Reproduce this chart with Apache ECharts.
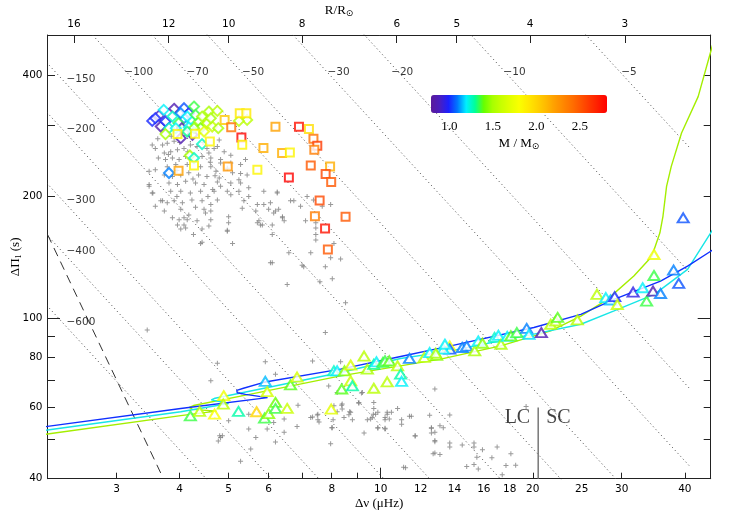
<!DOCTYPE html>
<html><head><meta charset="utf-8">
<script src="https://cdn.jsdelivr.net/npm/echarts@6/dist/echarts.min.js"></script>
<style>html,body{margin:0;padding:0;background:#fff}#c{width:729px;height:514px}</style>
</head><body><div id="c"></div>
<script>
// ---------- axes ----------
const xRange = [2.19, 45.0];
const yRange = [40, 502];
const rRange = [2.311, 17.34];
const xTickLabels = [3,4,5,6,8,10,12,14,16,18,20,25,30,40];
const xMinorTicks = [3,4,5,6,7,8,9,20,30,40];
const xMajorTicks = [10];
const rTickLabels = [16,12,10,8,6,5,4,3];
const yTickLabels = [40,60,80,100,200,400];
const yMinorTicks = [40,50,60,70,80,90,200,300,400];
const yMajorTicks = [100];
const massRange = [0.79, 2.81];
const massTicks = [1.0,1.5,2.0,2.5];
const massColors = ['#5a1a9a','#4a1ec0','#1a20ff','#0078ff','#00f0ff','#00ff98','#66ff00','#a8ff00','#c8ff00','#e2ff00','#faff00','#ffea00','#ffd400','#ffbb00','#ffa000','#ff8800','#ff7000','#ff5500','#ff3800','#ff1c00','#ff0000'];

// ---------- constant n_g reference lines ----------
const ngNames = ['\u22125','\u221210','\u221220','\u221230','\u221250','\u221270','\u2212100','\u2212150','\u2212200','\u2212300','\u2212400','\u2212600'];
const ngDnuEnds = [2.0, 41];
const ngStartPi = [16004,7843,4051,2602,1530,1087,751,483,364,243,181,121];
const ngEndPi = [263,129,66.6,42.8,25.2,17.9,12.3,7.95,5.98,4.0,2.98,1.99];
const ngLabelPos = [[31.0,406],[18.41,406],[11.03,406],[8.25,406],[5.59,406],[4.34,406],[3.32,406],[2.55,391],[2.55,294],[2.55,196],[2.55,146],[2.55,97.8]];

const dashedLine = [[2.19,161],[3.68,41]];
const lcScDivider = [[20.5,40],[20.5,60]];
const lcScLabelPos = [20.5, 56.6];

// ---------- model tracks ----------
const trackBlue = [[47,151.5],[45.0,146.3],[40.5,134.4],[35.8,123.4],[28.97,111.2],[24.9,102.1],[20.1,94.7],[13.76,85.3],[10.95,80.3],[8.33,74.7],[5.87,69.3],[5.35,67.0],[5.19,66.2],[5.20,65.3],[5.40,64.7],[5.97,63.5],[4.02,59.7],[2.19,53.9],[2.1,53.5]];
const trackCyan = [[47,177],[45.0,162.5],[40.5,131.9],[34.8,114.4],[28.97,104.1],[24.9,96.5],[20.1,91.2],[13.76,82.9],[10.95,79.4],[8.33,73.3],[5.91,67.1],[4.70,63.3],[4.62,62.7],[4.66,62.2],[5.00,61.4],[4.02,58.6],[2.19,52.8],[2.1,52.4]];
const trackGreen = [[46,503],[45.1,460.8],[42.5,353.3],[39.4,287],[37.6,237.3],[36.8,211.8],[36.2,178.6],[35.7,162.5],[34.4,142.0],[31.7,127],[28.1,111.2],[24.9,101.1],[21.7,92.9],[17.28,85.3],[13.14,79.1],[8.33,71.9],[5.53,64.8],[4.26,60.7],[4.18,60.1],[4.24,59.4],[4.73,58.8],[4.02,57.3],[2.19,51.6],[2.1,51.2]];

// ---------- stars ----------
const greyStars = [
[3.53,268],[3.58,263],[3.70,268],[3.78,271],[3.90,274],[3.73,256],[3.84,258],[3.96,261],[4.08,263],[4.20,268],[4.33,266],[4.53,263],[4.75,266],
[3.75,247],[3.87,249],[3.99,247],[4.11,251],[4.26,253],[4.43,251],[4.61,249],[4.82,247],[5.05,253],
[3.78,237],[3.93,240],[4.14,240],[4.40,237],[4.61,237],[4.72,231],
[3.73,226],[3.87,224],[4.02,226],[4.17,229],[4.36,226],[4.53,224],
[3.81,216],[3.96,214],[4.11,218],[4.30,216],[4.47,214],[4.75,217],
[3.84,206],[4.02,206],[4.20,204],[4.40,206],[4.65,208],[4.82,212],
[3.67,195],[3.90,195],[4.05,193],[4.23,196],[4.43,195],[4.61,191],
[3.73,184],[4.02,186],[4.17,180],[4.50,182],[4.61,175],[4.08,170],[4.33,174],[4.97,164],
[3.48,214],[3.53,204],[3.58,233],[3.63,249],[3.48,231],[4.97,235],[5.09,229],[5.24,220],[5.28,216],[5.44,226],[5.05,216],[4.79,222],[4.68,263],[4.79,276],[4.57,256],
[5.48,200],[5.36,195],[5.05,202],[5.24,206],[5.70,191],[6.00,186],[5.87,206],[6.24,204],[5.74,174],[6.14,182],[6.63,195],[6.73,195],[6.39,177],[6.44,174],[5.00,172],[4.43,166],[4.02,166],[3.99,175],[3.87,177],[5.05,242],[5.40,247],[4.82,242],[4.68,206],
[3.48,212],[3.54,204],[3.58,189],[3.70,195],[3.78,193],[3.96,170],[4.08,177],[4.14,175],[4.11,167],[4.26,161],[4.40,153],[4.57,169],[4.61,184],[4.47,186],[4.75,196],[4.97,206],[5.00,178],[4.97,165],[5.09,153],[4.43,154],
[5.28,240],[5.28,228],[5.48,210],[5.32,187],[5.66,184],[5.70,172],[5.78,170],[5.87,191],[6.10,161],[6.19,184],[6.39,178],[6.24,205],[6.94,189],[7.15,200],[7.36,196],[7.44,167],[7.44,161],[7.44,156],[7.27,145],[7.04,134],[6.58,145],[6.10,137],[6.53,121],[8.08,153],[7.96,141],[8.33,140],[7.77,134],[8.02,125],[7.58,123],[8.52,109],[7.66,189],
[6.05,193],[5.83,170],[6.10,170],[6.28,186],[7.96,191],[7.10,174],[7.44,172],
[3.62,278],[3.85,282],[4.00,272],[4.15,258],[4.45,272],[4.60,243],[3.95,232],[4.25,221],[4.55,200],[3.95,200],[4.30,188],[3.80,254],[4.90,258],[4.70,225],
[3.45,93.4],[7.77,92.0],[4.75,77.2],[4.61,69.9],[5.91,77.9],[6.19,72.6],[7.33,78.3],[8.33,77.9],[7.89,67.9],[6.86,60.8],[6.83,53.9],[6.44,52.1],[6.14,55.1],[6.44,56.2],[5.48,57.8],[5.00,55.7],[4.82,50.6],[4.86,51.1],[5.28,44.2],[5.48,53.1],[5.66,50.6],[5.96,53.1],[5.53,47.4],[6.19,49.3],[7.96,48.8],[7.27,56.7],[7.49,57.5],[7.55,55.3],[8.02,53.5],[8.39,59.5],[8.46,56.7],[8.65,57.6],[8.72,58.4],[9.05,61.8],[9.20,65.4],[9.55,56.2],[9.69,59.7],[9.77,57.8],[10.2,56.7],[10.3,58.4],[10.4,56.2],[9.87,53.5],[10.2,53.1],[10.8,59.7],[11.1,42.7],[11.5,57.1],[11.7,51.1],[12.6,53.5],[12.8,52.1],[12.8,49.7],[12.8,66.7],[12.7,46.1],[8.20,65.4],[8.39,61.2],[9.69,61.8],
[7.33,56.9],[7.51,57.8],[7.51,56.0],[8.08,60.6],[8.37,60.8],[8.20,58.6],[8.05,56.0],[8.68,58.6],[8.79,56.0],[9.05,61.5],[9.67,57.8],[9.41,56.0],[9.62,56.7],[9.87,58.4],[10.3,57.8],[10.5,58.4],[10.2,56.0],[11.0,56.0],[11.0,54.6],[11.4,57.1],[12.5,57.4],[13.1,54.1],[13.3,53.5],[13.7,57.5],[8.00,53.5],[9.27,51.9],[9.87,53.4],[10.2,53.3],[11.7,51.0],[12.6,53.3],[12.6,51.9],[12.8,49.4],[13.7,49.0],[13.7,47.9],[14.5,48.5],[15.3,49.0],[15.3,47.9],[15.9,47.2],[17.0,47.9],[12.8,46.3],[13.1,45.9],[15.5,45.2],[16.6,45.1],[18.1,46.1],[14.8,42.9],[15.3,43.4],[15.6,42.3],[17.7,43.1],[18.5,43.2],[17.4,40.9],[19.4,60.4],[9.16,65.2],
[6.05,137],[6.99,135],[4.80,51.1],[4.77,49.6],[11.2,42.6]
];
// [dnu, dPi, mass]
const diamondStars = [
[3.53,307.6,1.0],[3.64,317,0.9],[3.72,327.6,1.2],[3.90,329.6,0.85],[3.67,298,0.85],[3.75,306.5,1.0],[3.81,295.2,1.25],[3.75,285.3,1.5],[4.08,330.7,1.05],[4.17,321.5,1.0],[4.27,333.8,1.35],[4.20,309.4,1.25],[4.08,312.4,1.1],[3.98,303.7,1.35],[4.04,295.2,0.85],[4.02,278.8,0.85],[4.24,284.2,0.85],[4.17,296.8,1.2],[4.37,306.5,1.5],[4.40,295.2,1.4],[4.57,324.4,1.5],[4.75,325.7,1.55],[4.54,303.7,1.55],[4.64,298,1.6],[4.47,289.5,1.7],[4.43,269.5,1.25],[4.19,252.6,1.5],[4.27,248.9,1.25],[3.81,228.6,1.1],[5.44,309.4,1.55],[5.24,307.6,1.55],[3.58,312.4,1.0],[3.87,315.3,1.25],[4.02,321.5,1.1],[4.14,315.3,1.2],[4.30,318.4,1.35],[4.43,315.3,1.5],[4.61,312.4,1.5],[4.27,295.2,1.45],[3.93,295.2,1.2],[4.14,289.5,1.3],[4.77,295.2,1.5]
];
const squareStars = [
[3.96,285.3,1.85],[4.29,285.8,1.85],[4.59,273.5,1.85],[4.27,238.7,1.85],[3.98,231.6,2.2],[4.98,237.3,2.25],[5.70,232.9,1.85],[4.91,309.4,2.05],[5.26,321.5,1.9],[5.42,321.5,1.9],[5.06,296.8,2.4],[5.30,279.9,2.8],[5.32,268.5,1.85],[6.19,297.4,2.2],[6.89,297.4,2.75],[7.21,293.6,1.95],[7.36,277.8,2.4],[7.49,267,2.6],[7.39,260.9,2.35],[5.86,263.4,2.15],[6.38,256.1,2.15],[6.61,257,1.85],[6.58,222.9,2.8],[7.27,238.7,2.5],[7.94,237.3,2.15],[7.78,227.3,2.55],[7.98,217.2,2.5],[7.57,195.3,2.55],[8.52,178,2.5],[7.41,178.6,2.35],[7.76,166.5,2.75],[7.86,147.8,2.5]
];
const triangleStars = [
[4.20,57.2,1.35],[4.38,58.7,1.55],[4.69,57.8,1.8],[4.89,64.2,1.75],[4.88,61.2,1.55],[5.23,58.7,1.28],[5.68,58.6,2.0],[5.91,69.7,1.15],[5.96,65.7,1.65],[5.89,56.5,1.35],[6.00,58.0,1.45],[6.19,61.8,1.4],[6.19,59.7,1.35],[6.53,59.7,1.6],[6.63,68.3,1.38],[6.83,71.4,1.65],[7.98,59.5,1.7],[8.08,74.0,1.25],[8.20,74.0,1.2],[8.37,66.7,1.38],[8.48,74.0,1.45],[8.72,76.5,1.65],[8.72,69.9,1.6],[8.79,67.9,1.28],[9.27,80.5,1.55],[9.41,74.7,1.5],[9.69,76.8,1.3],[9.69,67.0,1.55],[9.81,77.9,1.2],[10.1,77.6,1.35],[10.2,78.3,1.35],[10.3,69.5,1.55],[10.4,78.3,1.38],[10.8,76.1,1.55],[10.95,72.6,1.28],[11.0,69.7,1.2],[11.4,79.4,1.1],[12.2,79.9,1.55],[12.5,82.1,1.2],[12.9,80.8,1.45],
[13.7,85.2,1.8],[13.7,83.7,1.05],[13.3,83.7,1.2],[14.5,84.5,1.1],[14.8,85.2,1.1],[15.35,82.9,1.5],[15.6,87.7,1.2],[15.9,86.6,1.45],[16.8,89.5,1.25],[17.1,90.6,1.2],[17.3,86.1,1.5],[17.8,90.0,1.2],[18.1,90.3,1.38],[18.6,92.0,1.35],[19.45,94.2,1.1],[19.65,91.1,1.18],[20.8,92.0,0.85],[21.7,96.5,1.55],[22.2,98.3,1.55],[22.4,100.3,1.38],[24.5,98.9,1.55],[26.8,114.4,1.55],[27.9,112.3,1.2],[28.5,110.8,1.15],[29.05,112.9,1.0],[29.4,108.0,1.6],[31.6,115.9,0.95],[33.0,118.8,1.2],[33.6,110.1,1.35],[34.6,116.6,0.85],[35.8,115.0,1.1],[34.75,143.6,1.75],[34.75,127.4,1.35],[38.0,131.4,1.1],[38.9,121.8,1.05],[39.7,177.0,1.05],[12.85,81.8,1.5],[13.4,86.1,1.2]
];

// ---------- build chart ----------
const numFont = {fontFamily:'DejaVu Sans', fontSize:10.5, color:'#000'};
const nameFont = {fontFamily:'Liberation Serif', fontSize:13, color:'#000'};
const frameLine = {show:true, onZero:false, lineStyle:{color:'#222', width:1}};

function logAxisBase(extra){
  return Object.assign({type:'log', logBase:10, splitLine:{show:false}, minorTick:{show:false}, nameMoveOverlap:false}, extra);
}

const series = [];
ngNames.forEach((n, i) => {
  series.push({type:'line', xAxisIndex:0, yAxisIndex:0, symbol:'none', silent:true, clip:true,
    data:[[ngDnuEnds[0], ngStartPi[i]], [ngDnuEnds[1], ngEndPi[i]]],
    lineStyle:{color:'#444', width:1, type:[1,3]}, z:1});
});
series.push({type:'line', symbol:'none', silent:true, data:dashedLine,
  lineStyle:{color:'#333', width:1, type:[9,6]}, z:1});
series.push({type:'line', symbol:'none', silent:true, data:lcScDivider,
  lineStyle:{color:'#777', width:1.5}, z:2});
series.push({type:'line', symbol:'none', silent:true, data:trackGreen, lineStyle:{color:'#a4ee00', width:1.4}, z:3});
series.push({type:'line', symbol:'none', silent:true, data:trackCyan, lineStyle:{color:'#18e6e6', width:1.4}, z:3});
series.push({type:'line', symbol:'none', silent:true, data:trackBlue, lineStyle:{color:'#1030ff', width:1.4}, z:3});
series.push({type:'scatter', symbol:'path://M0,2H5V3H0ZM2,0H3V5H2Z', symbolSize:5, data:greyStars,
  itemStyle:{color:'#808080'}, silent:true, z:4});
const symStart = series.length;
series.push({type:'scatter', symbol:'emptyDiamond', symbolSize:10, data:diamondStars, silent:true, z:5});
series.push({type:'scatter', symbol:'emptyRect', symbolSize:8, data:squareStars, silent:true, z:5});
series.push({type:'scatter', symbol:'emptyTriangle', symbolSize:[11,9], data:triangleStars, silent:true, z:5});
series.push({type:'scatter', symbolSize:0, silent:true, z:6,
  data: ngNames.map((n,i)=>({name:n, value:ngLabelPos[i]})),
  label:{show:true, position:'inside', formatter:p=>p.name, fontFamily:'DejaVu Sans', fontSize:10.5, color:'#000'}});
series.push({type:'scatter', symbolSize:0, silent:true, z:6,
  data:[{name:'LC', value:lcScLabelPos, label:{position:'left'}}, {name:'SC', value:lcScLabelPos, label:{position:'right'}}],
  label:{show:true, distance:8, formatter:p=>p.name, fontFamily:'Liberation Serif', fontSize:20, color:'#111'}});

const option = {
  backgroundColor:'#fff',
  animation:false,
  grid:[
    {left:47.5, right:18.3, top:35, bottom:35.3, containLabel:false, outerBoundsMode:'none'},
    {left:431, top:95, width:176, height:18, containLabel:false, outerBoundsMode:'none'}
  ],
  xAxis:[
    logAxisBase({gridIndex:0, position:'bottom', min:xRange[0], max:xRange[1],
      axisLine:frameLine,
      axisTick:{inside:true, length:6, customValues:xMinorTicks, lineStyle:{color:'#222'}},
      axisLabel:Object.assign({customValues:xTickLabels, margin:5}, numFont),
      name:'\u0394\u03bd (\u03bcHz)', nameLocation:'middle', nameGap:18, nameTextStyle:nameFont}),
    logAxisBase({gridIndex:0, position:'bottom', min:xRange[0], max:xRange[1],
      axisLine:{show:false}, axisLabel:{show:false},
      axisTick:{inside:true, length:11, customValues:xMajorTicks, lineStyle:{color:'#222'}}}),
    logAxisBase({gridIndex:0, position:'top', inverse:true, min:rRange[0], max:rRange[1],
      axisLine:frameLine,
      axisTick:{inside:true, length:8, customValues:rTickLabels, lineStyle:{color:'#222'}},
      axisLabel:Object.assign({customValues:rTickLabels, margin:5}, numFont),
      name:'R/R{s|\u2299}', nameLocation:'middle', nameGap:17,
      nameTextStyle:Object.assign({padding:[0,80,0,0], rich:{s:{fontFamily:'DejaVu Sans', fontSize:9, padding:[6,0,0,0]}}}, nameFont)}),
    {gridIndex:1, type:'value', min:massRange[0], max:massRange[1], nameMoveOverlap:false,
      axisLine:{show:false}, axisTick:{show:false}, splitLine:{show:false},
      axisLabel:{customValues:massTicks, formatter:v=>v.toFixed(1), margin:7, fontFamily:'Liberation Serif', fontSize:13, color:'#000'},
      name:'M / M{s|\u2299}', nameLocation:'middle', nameGap:23,
      nameTextStyle:Object.assign({rich:{s:{fontFamily:'DejaVu Sans', fontSize:9, padding:[6,0,0,0]}}}, nameFont)}
  ],
  yAxis:[
    logAxisBase({gridIndex:0, position:'left', min:yRange[0], max:yRange[1],
      axisLine:frameLine,
      axisTick:{inside:true, length:7.5, customValues:yMinorTicks, lineStyle:{color:'#222'}},
      axisLabel:Object.assign({customValues:yTickLabels, margin:5}, numFont),
      name:'\u0394\u03a0{s|1} (s)', nameLocation:'middle', nameGap:25,
      nameTextStyle:Object.assign({rich:{s:{fontFamily:'Liberation Serif', fontSize:8, padding:[5,0,0,0]}}}, nameFont)}),
    logAxisBase({gridIndex:0, position:'left', min:yRange[0], max:yRange[1],
      axisLine:{show:false}, axisLabel:{show:false},
      axisTick:{inside:true, length:12.5, customValues:yMajorTicks, lineStyle:{color:'#222'}}}),
    logAxisBase({gridIndex:0, position:'right', min:yRange[0], max:yRange[1],
      axisLine:frameLine, axisLabel:{show:false},
      axisTick:{inside:true, length:7, customValues:yMinorTicks, lineStyle:{color:'#222'}}}),
    logAxisBase({gridIndex:0, position:'right', min:yRange[0], max:yRange[1],
      axisLine:{show:false}, axisLabel:{show:false},
      axisTick:{inside:true, length:13, customValues:yMajorTicks, lineStyle:{color:'#222'}}}),
    {gridIndex:1, type:'value', show:false, min:0, max:1}
  ],
  visualMap:[{
    type:'continuous', min:massRange[0], max:massRange[1], dimension:2,
    seriesIndex:[symStart, symStart+1, symStart+2],
    orient:'horizontal', left:431, top:95, itemWidth:18, itemHeight:176,
    calculable:false, hoverLink:false, padding:0, text:null,
    inRange:{color:massColors}
  }],
  series: series
};
const chart = echarts.init(document.getElementById('c'));
chart.setOption(option);
</script></body></html>
